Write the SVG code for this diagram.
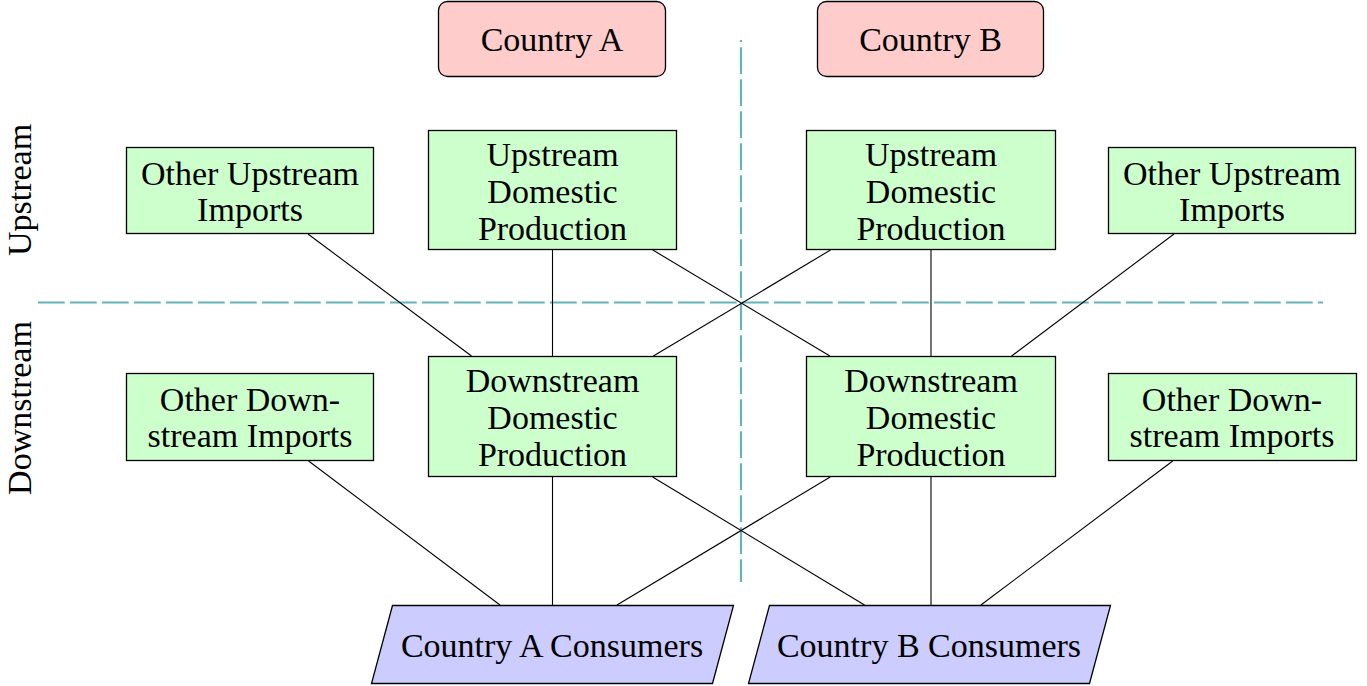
<svg xmlns="http://www.w3.org/2000/svg" width="1367" height="686" viewBox="0 0 1367 686">
<style>
text{font-family:"Liberation Serif","Times New Roman",serif;font-size:34px;fill:#000;text-anchor:middle}
.g{fill:#ccffcc;stroke:#000;stroke-width:1.3}
.r{fill:#ffcccc;stroke:#000;stroke-width:1.3}
.b{fill:#ccccff;stroke:#000;stroke-width:1.3}
.c line{stroke:#000;stroke-width:1.1}
.d{stroke:#66b3b3;stroke-width:2.2;stroke-dasharray:26.7 5.3;fill:none}
</style>
<rect width="1367" height="686" fill="#fff"/>
<g id="dividers">
<line class="d" x1="741" y1="40" x2="741" y2="582" stroke-dashoffset="24.7"/>
<line class="d" x1="38" y1="302.5" x2="1323" y2="302.5"/>
</g>
<g id="labels">
<text transform="rotate(-90 31 190)" x="31" y="190">Upstream</text>
<text transform="rotate(-90 31 408)" x="31" y="408">Downstream</text>
</g>
<g class="c" id="connectors">
<line x1="308" y1="234" x2="471.5" y2="356"/>
<line x1="552.5" y1="250" x2="552.5" y2="356"/>
<line x1="652.8" y1="250" x2="829.9" y2="356"/>
<line x1="830.5" y1="250" x2="653.4" y2="356"/>
<line x1="931" y1="250" x2="931" y2="356"/>
<line x1="1174" y1="234" x2="1011.6" y2="356"/>
<line x1="308.6" y1="461" x2="500" y2="605"/>
<line x1="552.5" y1="477" x2="552.5" y2="605"/>
<line x1="652.6" y1="477" x2="864.5" y2="605"/>
<line x1="830.2" y1="477" x2="617" y2="605"/>
<line x1="931" y1="477" x2="931" y2="605"/>
<line x1="1172.7" y1="461" x2="980.9" y2="605"/>
</g>
<g id="countryA"><rect class="r" x="438.5" y="1.5" width="227" height="75" rx="9"/><text x="552" y="51">Country A</text></g>
<g id="countryB"><rect class="r" x="817.5" y="1.5" width="226" height="75" rx="9"/><text x="930.5" y="51">Country B</text></g>
<g id="otherUpA"><rect class="g" x="126.5" y="147.5" width="247" height="86"/><text x="250" y="185">Other Upstream</text><text x="250" y="221">Imports</text></g>
<g id="upA"><rect class="g" x="428.5" y="130.5" width="248" height="119"/><text x="552.5" y="166">Upstream</text><text x="552.5" y="203">Domestic</text><text x="552.5" y="240">Production</text></g>
<g id="upB"><rect class="g" x="806.5" y="130.5" width="249" height="119"/><text x="931" y="166">Upstream</text><text x="931" y="203">Domestic</text><text x="931" y="240">Production</text></g>
<g id="otherUpB"><rect class="g" x="1108.5" y="147.5" width="247" height="86"/><text x="1232" y="185">Other Upstream</text><text x="1232" y="221">Imports</text></g>
<g id="otherDownA"><rect class="g" x="126.5" y="373.5" width="247" height="87"/><text x="250" y="411">Other Down-</text><text x="250" y="447">stream Imports</text></g>
<g id="downA"><rect class="g" x="428.5" y="356.5" width="248" height="120"/><text x="552.5" y="392">Downstream</text><text x="552.5" y="429">Domestic</text><text x="552.5" y="466">Production</text></g>
<g id="downB"><rect class="g" x="806.5" y="356.5" width="249" height="120"/><text x="931" y="392">Downstream</text><text x="931" y="429">Domestic</text><text x="931" y="466">Production</text></g>
<g id="otherDownB"><rect class="g" x="1108.5" y="373.5" width="248" height="87"/><text x="1232" y="411">Other Down-</text><text x="1232" y="447">stream Imports</text></g>
<g id="consumersA"><polygon class="b" points="392.5,605.5 733.5,605.5 712.5,683.5 371.5,683.5"/><text x="552" y="657">Country A Consumers</text></g>
<g id="consumersB"><polygon class="b" points="769.5,605.5 1110.5,605.5 1089.5,683.5 748.5,683.5"/><text x="929" y="657">Country B Consumers</text></g>
</svg>
